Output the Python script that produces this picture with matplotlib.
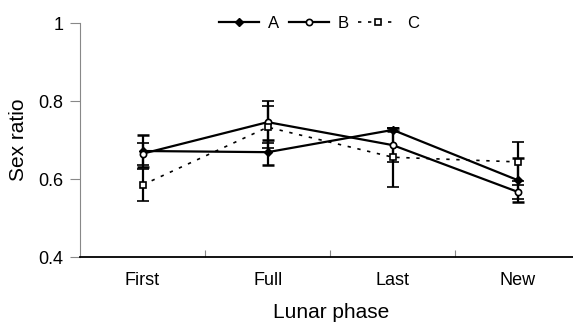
import matplotlib
matplotlib.use("Agg")
import matplotlib.pyplot as plt
import numpy as np

plt.rcParams['font.family'] = ['Liberation Sans', 'DejaVu Sans']

phases = ["First", "Full", "Last", "New"]
a_vals = [0.672, 0.669, 0.726, 0.597]
a_err = [0.042, 0.032, 0.004, 0.057]
b_vals = [0.665, 0.746, 0.687, 0.567]
b_err = [0.028, 0.054, 0.043, 0.017]
c_vals = [0.585, 0.733, 0.656, 0.644]
c_err = [0.040, 0.054, 0.076, 0.050]

fig = plt.figure(figsize=(5.73, 3.25), dpi=100)
ax = fig.add_axes([0.1396, 0.209, 0.8604, 0.72])

x = np.arange(len(phases))
ax.errorbar(x, a_vals, yerr=a_err, color='black', lw=1.6, marker='D', ms=4,
            mfc='black', mec='black', capsize=4, capthick=1.8, elinewidth=1.6, label='A')
ax.errorbar(x, b_vals, yerr=b_err, color='black', lw=1.6, marker='o', ms=4.5,
            mfc='white', mec='black', mew=1.2, capsize=4, capthick=1.8, elinewidth=1.6, label='B')
ax.errorbar(x, c_vals, yerr=c_err, color='black', lw=1.2, ls=(0, (2, 4)), marker='s', ms=4.5,
            mfc='white', mec='black', mew=1.2, capsize=4, capthick=1.8, elinewidth=1.6, label='C')

ax.set_xlim(-0.5, 3.44)
ax.set_ylim(0.4, 1.0)
ax.set_yticks([0.4, 0.6, 0.8, 1.0])
ax.set_yticklabels(["0.4", "0.6", "0.8", "1"], fontsize=13)
ax.set_xticks([0.5, 1.5, 2.5])
ax.set_xticks(x, minor=True)
ax.set_xticklabels([])
ax.set_xticklabels(phases, minor=True, fontsize=13)
ax.tick_params(axis='x', which='major', length=5, direction='in', color='#888888')
ax.tick_params(axis='x', which='minor', length=0, pad=11)
ax.tick_params(axis='y', length=7, color='#888888', pad=5)

ax.spines['top'].set_visible(False)
ax.spines['right'].set_visible(False)
ax.spines['left'].set_color('#888888')
ax.spines['bottom'].set_color('black')
ax.spines['bottom'].set_linewidth(1.3)

ax.set_ylabel("Sex ratio", fontsize=15)
ax.set_xlabel("Lunar phase", fontsize=15)
ax.yaxis.set_label_coords(-0.105, 0.5)
ax.xaxis.set_label_coords(0.509, -0.195)

handles, labels = ax.get_legend_handles_labels()
handles = [h[0] for h in handles]
ax.legend(handles, labels, loc='center', bbox_to_anchor=(0.485, 1.0), ncol=3, frameon=False,
          fontsize=12, handlelength=2.4, handletextpad=0.5, columnspacing=0.6)

fig.savefig("out.png", dpi=100)
